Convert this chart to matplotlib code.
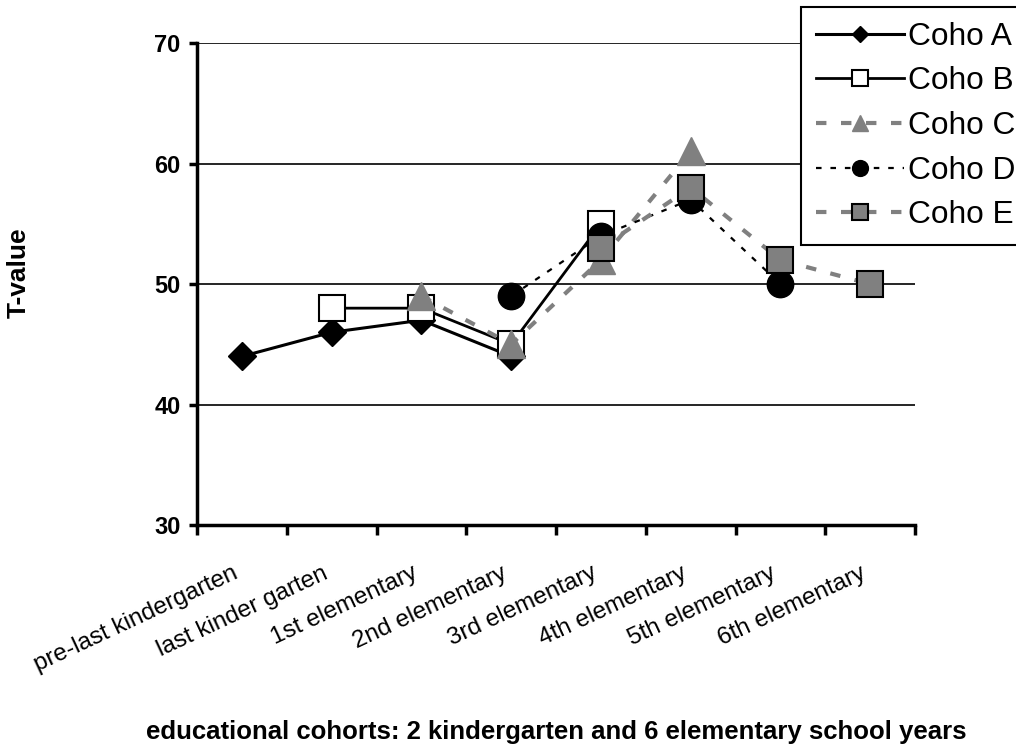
import numpy as np
import matplotlib
matplotlib.use("Agg")
import matplotlib.pyplot as plt
import matplotlib.transforms as mtransforms

plt.rcParams['font.family'] = ['Liberation Sans', 'DejaVu Sans']

categories = ["pre-last kindergarten", "last kinder garten", "1st elementary",
              "2nd elementary", "3rd elementary", "4th elementary",
              "5th elementary", "6th elementary"]
nan = np.nan
coho_a = [44, 46, 47, 44, nan, nan, nan, nan]
coho_b = [nan, 48, 48, 45, 55, nan, nan, nan]
coho_c = [nan, nan, 49, 45, 52, 61, nan, nan]
coho_d = [nan, nan, nan, 49, 54, 57, 50, nan]
coho_e = [nan, nan, nan, nan, 53, 58, 52, 50]
yticks = [30, 40, 50, 60, 70]

grey = "#808080"
fig = plt.figure(figsize=(10.16, 7.48), dpi=100)
ax = fig.add_axes([0.194, 0.298, 0.7066, 0.6445])
x = np.arange(len(categories))

ax.plot(x, coho_a, color="black", lw=2.2, marker="D", ms=14,
        mfc="black", mec="black", label="Coho A", zorder=3)
ax.plot(x, coho_b, color="black", lw=2.0, marker="s", ms=19,
        mfc="white", mec="black", mew=1.5, label="Coho B", zorder=3)
ax.plot(x, coho_c, color=grey, lw=3, ls=(0, (2.5, 3.5)), marker="^", ms=20,
        mfc=grey, mec=grey, label="Coho C", zorder=3)
ax.plot(x, coho_d, color="black", lw=1.6, ls=(0, (2.5, 4)), marker="o", ms=19,
        mfc="black", mec="black", label="Coho D", zorder=3)
ax.plot(x, coho_e, color=grey, lw=3, ls=(0, (2.5, 3.5)), marker="s", ms=19,
        mfc=grey, mec="black", mew=1.5, label="Coho E", zorder=3)

ax.set_xlim(-0.5, len(categories) - 0.5)
ax.set_ylim(30, 70)
ax.set_yticks(yticks)
ax.set_yticklabels([str(v) for v in yticks], fontsize=17, fontweight="bold")
for v in yticks[1:]:
    ax.axhline(v, color="black", lw=1.2, zorder=1)

# category names sit a little left of each category centre, slanted upward
ax.set_xticks(x)
ax.set_xticklabels([])
lbl_tr = mtransforms.offset_copy(ax.get_xaxis_transform(), fig=fig,
                                 x=-10, y=-37, units="dots")
for xi, name in zip(x, categories):
    ax.text(xi, 0, name, transform=lbl_tr, rotation=25, ha="right", va="top",
            rotation_mode="anchor", fontsize=17.5, clip_on=False)
ax.set_xticks(np.arange(-0.5, len(categories)), minor=True)
ax.tick_params(axis="x", which="major", length=0)
ax.tick_params(axis="x", which="minor", length=7, width=2.5, direction="out")
ax.tick_params(axis="y", length=6, width=2.5, direction="out", pad=6)

for side in ["top", "right"]:
    ax.spines[side].set_visible(False)
for side in ["left", "bottom"]:
    ax.spines[side].set_linewidth(2.5)

fig.text(19 / 1016, 1 - 273 / 748, "T-value", rotation=90, ha="center",
         va="center", fontsize=19, fontweight="bold")
fig.text(0.547, 1 - 732 / 748, "educational cohorts: 2 kindergarten and 6 elementary school years",
         ha="center", va="center", fontsize=18.5, fontweight="bold")

leg = fig.legend(loc="upper left", bbox_to_anchor=(801 / 1016, 1 - 7 / 748),
                 fontsize=22.8, markerscale=0.6, handlelength=2.78,
                 handletextpad=0.12, labelspacing=0.46, borderpad=0.47,
                 borderaxespad=0, fancybox=False, framealpha=1)
leg.get_frame().set_edgecolor("black")
leg.get_frame().set_linewidth(1.5)

fig.savefig("out.png", dpi=100)
